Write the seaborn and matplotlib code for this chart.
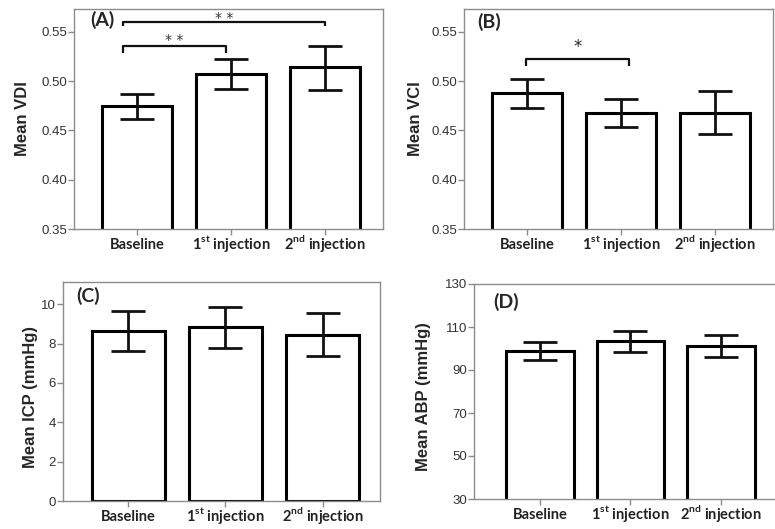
import matplotlib
matplotlib.use('Agg')
import matplotlib.pyplot as plt
import numpy as np
import pandas as pd
import seaborn as sns

groups = ['Baseline', '1st injection', '2nd injection']
tick_labels = ['Baseline', r'1$^{\mathbf{st}}$ injection', r'2$^{\mathbf{nd}}$ injection']

vdi_mean = [0.475, 0.507, 0.514]
vdi_low = [0.462, 0.492, 0.491]
vdi_high = [0.487, 0.522, 0.535]

vci_mean = [0.488, 0.468, 0.468]
vci_low = [0.473, 0.453, 0.446]
vci_high = [0.502, 0.482, 0.490]

icp_mean = [8.64, 8.83, 8.44]
icp_low = [7.60, 7.78, 7.38]
icp_high = [9.66, 9.86, 9.54]

abp_mean = [99.0, 103.5, 101.2]
abp_low = [94.7, 98.5, 95.9]
abp_high = [103.2, 108.3, 106.3]

sns.set_theme(style='white')
plt.rcParams['font.family'] = ['Lato', 'DejaVu Sans']
plt.rcParams['mathtext.fontset'] = 'custom'
plt.rcParams['mathtext.bf'] = 'Lato:bold'
plt.rcParams['mathtext.rm'] = 'Lato'

W, H = 775, 529
fig = plt.figure(figsize=(W / 100, H / 100), dpi=100)
fig.patch.set_facecolor('white')

FRAME = '#8c8c8c'


def px_axes(x0, x1, y0, y1):
    return fig.add_axes([x0 / W, 1 - y1 / H, (x1 - x0) / W, (y1 - y0) / H])


def draw_panel(ax, means, lows, highs, ylim, yticks, fmt, ylabel, tag, xlim,
               label_x, label_y, tag_xy):
    df = pd.DataFrame({'group': groups, 'value': means})
    sns.barplot(data=df, x='group', y='value', order=groups, color='white',
                saturation=1, edgecolor='black', linewidth=2.2, width=0.75,
                errorbar=None, ax=ax)
    m = np.array(means)
    yerr = [m - np.array(lows), np.array(highs) - m]
    ax.errorbar(np.arange(len(groups)), m, yerr=yerr, fmt='none',
                ecolor='#111111', elinewidth=2, capsize=12, capthick=2, zorder=5)
    ax.set_xlim(*xlim)
    ax.set_ylim(*ylim)
    ax.set_yticks(yticks)
    ax.set_yticklabels([fmt.format(t) for t in yticks],
                       fontfamily='Liberation Sans', fontsize=9.5, color='#333333')
    ax.set_xticks(range(len(groups)))
    ax.set_xticklabels(tick_labels, fontweight='bold', fontsize=10.5, color='#222222')
    for lab in ax.get_xticklabels():
        lab.set_verticalalignment('baseline')
    ax.set_xlabel('')
    ax.set_ylabel(ylabel, fontweight='bold', fontsize=12, va='center',
                  fontfamily='Liberation Sans')
    ax.yaxis.set_label_coords(label_x, label_y)
    for s in ax.spines.values():
        s.set_color(FRAME)
        s.set_linewidth(1.0)
        s.set_visible(True)
    ax.tick_params(axis='both', which='both', direction='out', length=4,
                   width=1, color=FRAME, left=True, bottom=True)
    ax.tick_params(axis='x', pad=10.4)
    ax.tick_params(axis='y', pad=1)
    ax.text(tag_xy[0], tag_xy[1], tag, transform=ax.transAxes, fontsize=14,
            fontweight='bold', ha='left', va='center')


def bracket(ax, x0, x1, y, drop, label, ty, size, color):
    ax.plot([x0, x0, x1, x1], [y - drop, y, y, y - drop], color='#111111',
            lw=1.6, solid_capstyle='butt', zorder=6)
    ax.text((x0 + x1) / 2, ty, label, ha='center', va='center',
            fontsize=size, color=color, fontfamily='DejaVu Sans')


ax_a = px_axes(74, 383, 9, 229)
draw_panel(ax_a, vdi_mean, vdi_low, vdi_high, (0.35, 0.573),
           [0.35, 0.40, 0.45, 0.50, 0.55], '{:.2f}', 'Mean VDI', '(A)',
           (-0.67, 2.617), -0.167, 0.5, (0.052, 0.95))
bracket(ax_a, -0.15, 2.0, 0.5595, 0.0035, '* *', 0.5635, 10, '#333333')
bracket(ax_a, -0.15, 0.95, 0.535, 0.0065, '* *', 0.5415, 10, '#333333')

ax_b = px_axes(464, 773, 9, 229)
draw_panel(ax_b, vci_mean, vci_low, vci_high, (0.35, 0.573),
           [0.35, 0.40, 0.45, 0.50, 0.55], '{:.2f}', 'Mean VCI', '(B)',
           (-0.67, 2.617), -0.157, 0.5, (0.042, 0.94))
bracket(ax_b, -0.01, 1.08, 0.5225, 0.0075, '*', 0.534, 12, '#222222')

ax_c = px_axes(63, 380, 282, 501)
draw_panel(ax_c, icp_mean, icp_low, icp_high, (0, 11.13),
           [0, 2, 4, 6, 8, 10], '{:d}', 'Mean ICP (mmHg)', '(C)',
           (-0.67, 2.59), -0.101, 0.476, (0.041, 0.938))

ax_d = px_axes(474, 787, 284, 499)
draw_panel(ax_d, abp_mean, abp_low, abp_high, (30, 130),
           [30, 50, 70, 90, 110, 130], '{:d}', 'Mean ABP (mmHg)', '(D)',
           (-0.73, 2.73), -0.16, 0.477, (0.06, 0.916))

fig.savefig('out.png', dpi=100, facecolor='white')
